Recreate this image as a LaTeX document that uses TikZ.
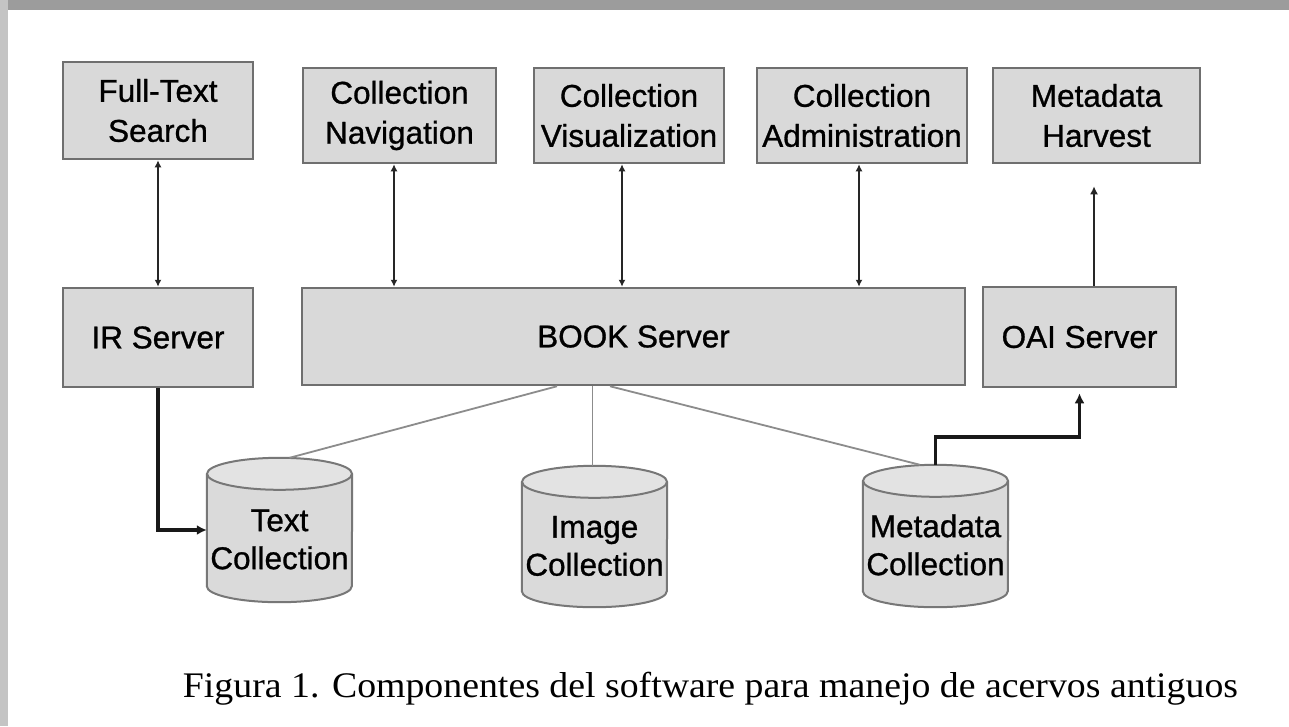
\documentclass[tikz,border=0pt]{standalone}
\usepackage{fontspec}
\usepackage{graphicx}
\setmainfont{Liberation Sans}[RawFeature={embolden=0.9}]
\newfontfamily\capfont{Liberation Serif}
\usetikzlibrary{arrows.meta,backgrounds}
\definecolor{boxfill}{HTML}{D9D9D9}
\definecolor{boxline}{HTML}{6F6F6F}
\definecolor{arrowc}{HTML}{262626}
\definecolor{thinc}{HTML}{8C8C8C}
\definecolor{cylfill}{HTML}{DADADA}
\definecolor{captop}{HTML}{E3E3E3}
\definecolor{cylline}{HTML}{777777}
\definecolor{frametop}{HTML}{9C9C9C}
\definecolor{frameleft}{HTML}{C4C4C4}
\tikzset{
  comp/.style={draw=boxline, fill=boxfill, line width=2.5pt, align=center,
    inner sep=0pt, font=\fontsize{31.5}{40}\selectfont},
  db/.style={inner sep=0pt, minimum width=145pt, font=\fontsize{31.5}{38}\selectfont},
  cylstroke/.style={draw=cylline, line width=2pt},
  biarrow/.style={arrowc, line width=2.8pt, {Latex[length=7pt,width=7pt]}-{Latex[length=7pt,width=7pt]}},
  uparrow/.style={arrowc, line width=2.8pt, -{Latex[length=8pt,width=8pt]}},
  thickarrow/.style={black!90, line width=3.4pt, -{Latex[length=10pt,width=10pt]}},
  thinline/.style={thinc, line width=1.8pt},
}
\newcommand\cyltxt[1]{\raisebox{-12.5pt}[\height][\depth]{\begin{tabular}{@{}c@{}}#1\end{tabular}}}
\newcommand\drawcyl[1]{%
  \fill[cylfill] ([yshift=-16pt]#1.north west) rectangle ([yshift=16pt]#1.south east);
  \fill[cylfill] ([yshift=16pt]#1.south) ellipse[x radius=72.5pt,y radius=16pt];
  \fill[captop] ([yshift=-16pt]#1.north) ellipse[x radius=72.5pt,y radius=16pt];
  \draw[cylstroke] ([yshift=-16pt]#1.north west) -- ([yshift=16pt]#1.south west)
     arc[start angle=180,end angle=360,x radius=72.5pt,y radius=16pt]
     -- ([yshift=-16pt]#1.north east);
  \draw[cylstroke] ([yshift=-16pt]#1.north) ellipse[x radius=72.5pt,y radius=16pt];
}
\begin{document}
\begin{tikzpicture}[x=1pt,y=-1pt]
\useasboundingbox (0,0) rectangle (1289,726);
\begin{pgfonlayer}{background}
  \fill[white] (0,0) rectangle (1289,726);
  \fill[frametop] (0,0) rectangle (1289,10);
  \fill[frameleft] (0,0) rectangle (8,726);
\end{pgfonlayer}

% top row
\node[comp, minimum width=190pt, minimum height=97pt] (fts) at (158,110.5) {Full-Text\\Search};
\node[comp, minimum width=193pt, minimum height=95pt] (cnav) at (399.5,115.5) {Collection\\Navigation};
\node[comp, minimum width=190pt, minimum height=95pt] (cvis) at (629,115.5) {Collection\\Visualization};
\node[comp, minimum width=210pt, minimum height=95pt] (cadm) at (862,115.5) {Collection\\Administration};
\node[comp, minimum width=207pt, minimum height=95pt] (mh) at (1096.5,115.5) {Metadata\\Harvest};

% middle row
\node[comp, minimum width=190pt, minimum height=99pt] (ir) at (158,337.5) {IR Server};
\node[comp, minimum width=663pt, minimum height=97pt] (book) at (633.5,336.5) {BOOK Server};
\node[comp, minimum width=193pt, minimum height=100pt] (oai) at (1079.5,337) {OAI Server};

% collections
\node[db, minimum height=144pt] (tc) at (279.5,530) {\cyltxt{Text\\Collection}};
\node[db, minimum height=141pt] (ic) at (594.5,536.5) {\cyltxt{Image\\Collection}};
\node[db, minimum height=142pt] (mc) at (935.5,536) {\cyltxt{Metadata\\Collection}};
\begin{pgfonlayer}{background}
  \drawcyl{tc}
  \drawcyl{ic}
  \drawcyl{mc}
\end{pgfonlayer}

% connectors
\draw[biarrow] (fts.south) -- (ir.north);
\draw[biarrow] ([xshift=-5.5pt]cnav.south) -- ([xshift=-5.5pt]cnav.south |- book.north);
\draw[biarrow] ([xshift=-7pt]cvis.south) -- ([xshift=-7pt]cvis.south |- book.north);
\draw[biarrow] ([xshift=-3pt]cadm.south) -- ([xshift=-3pt]cadm.south |- book.north);
\draw[uparrow, shorten >=22pt] ([xshift=14.5pt]oai.north) -- ([xshift=14.5pt]oai.north |- mh.south);
\draw[thickarrow] (ir.south) |- (tc.west);
\draw[thickarrow, shorten >=5pt] (mc.north) -- ++(0,-28) -| (oai.south);
\draw[thinline] ([xshift=-76.5pt]book.south) -- ([xshift=10pt]tc.north);
\draw[thinline] ([xshift=-2pt]ic.north |- book.south) -- ([xshift=-2pt]ic.north);
\draw[thinline] ([xshift=-23.5pt]book.south) -- ([xshift=-15.5pt]mc.north);

% caption
\node[anchor=base, inner sep=0pt] (cap) at (710.5,697)
  {\capfont\fontsize{36}{40}\selectfont\resizebox{1055pt}{\height}{Figura 1. Componentes del software para manejo de acervos antiguos}};
\end{tikzpicture}
\end{document}
